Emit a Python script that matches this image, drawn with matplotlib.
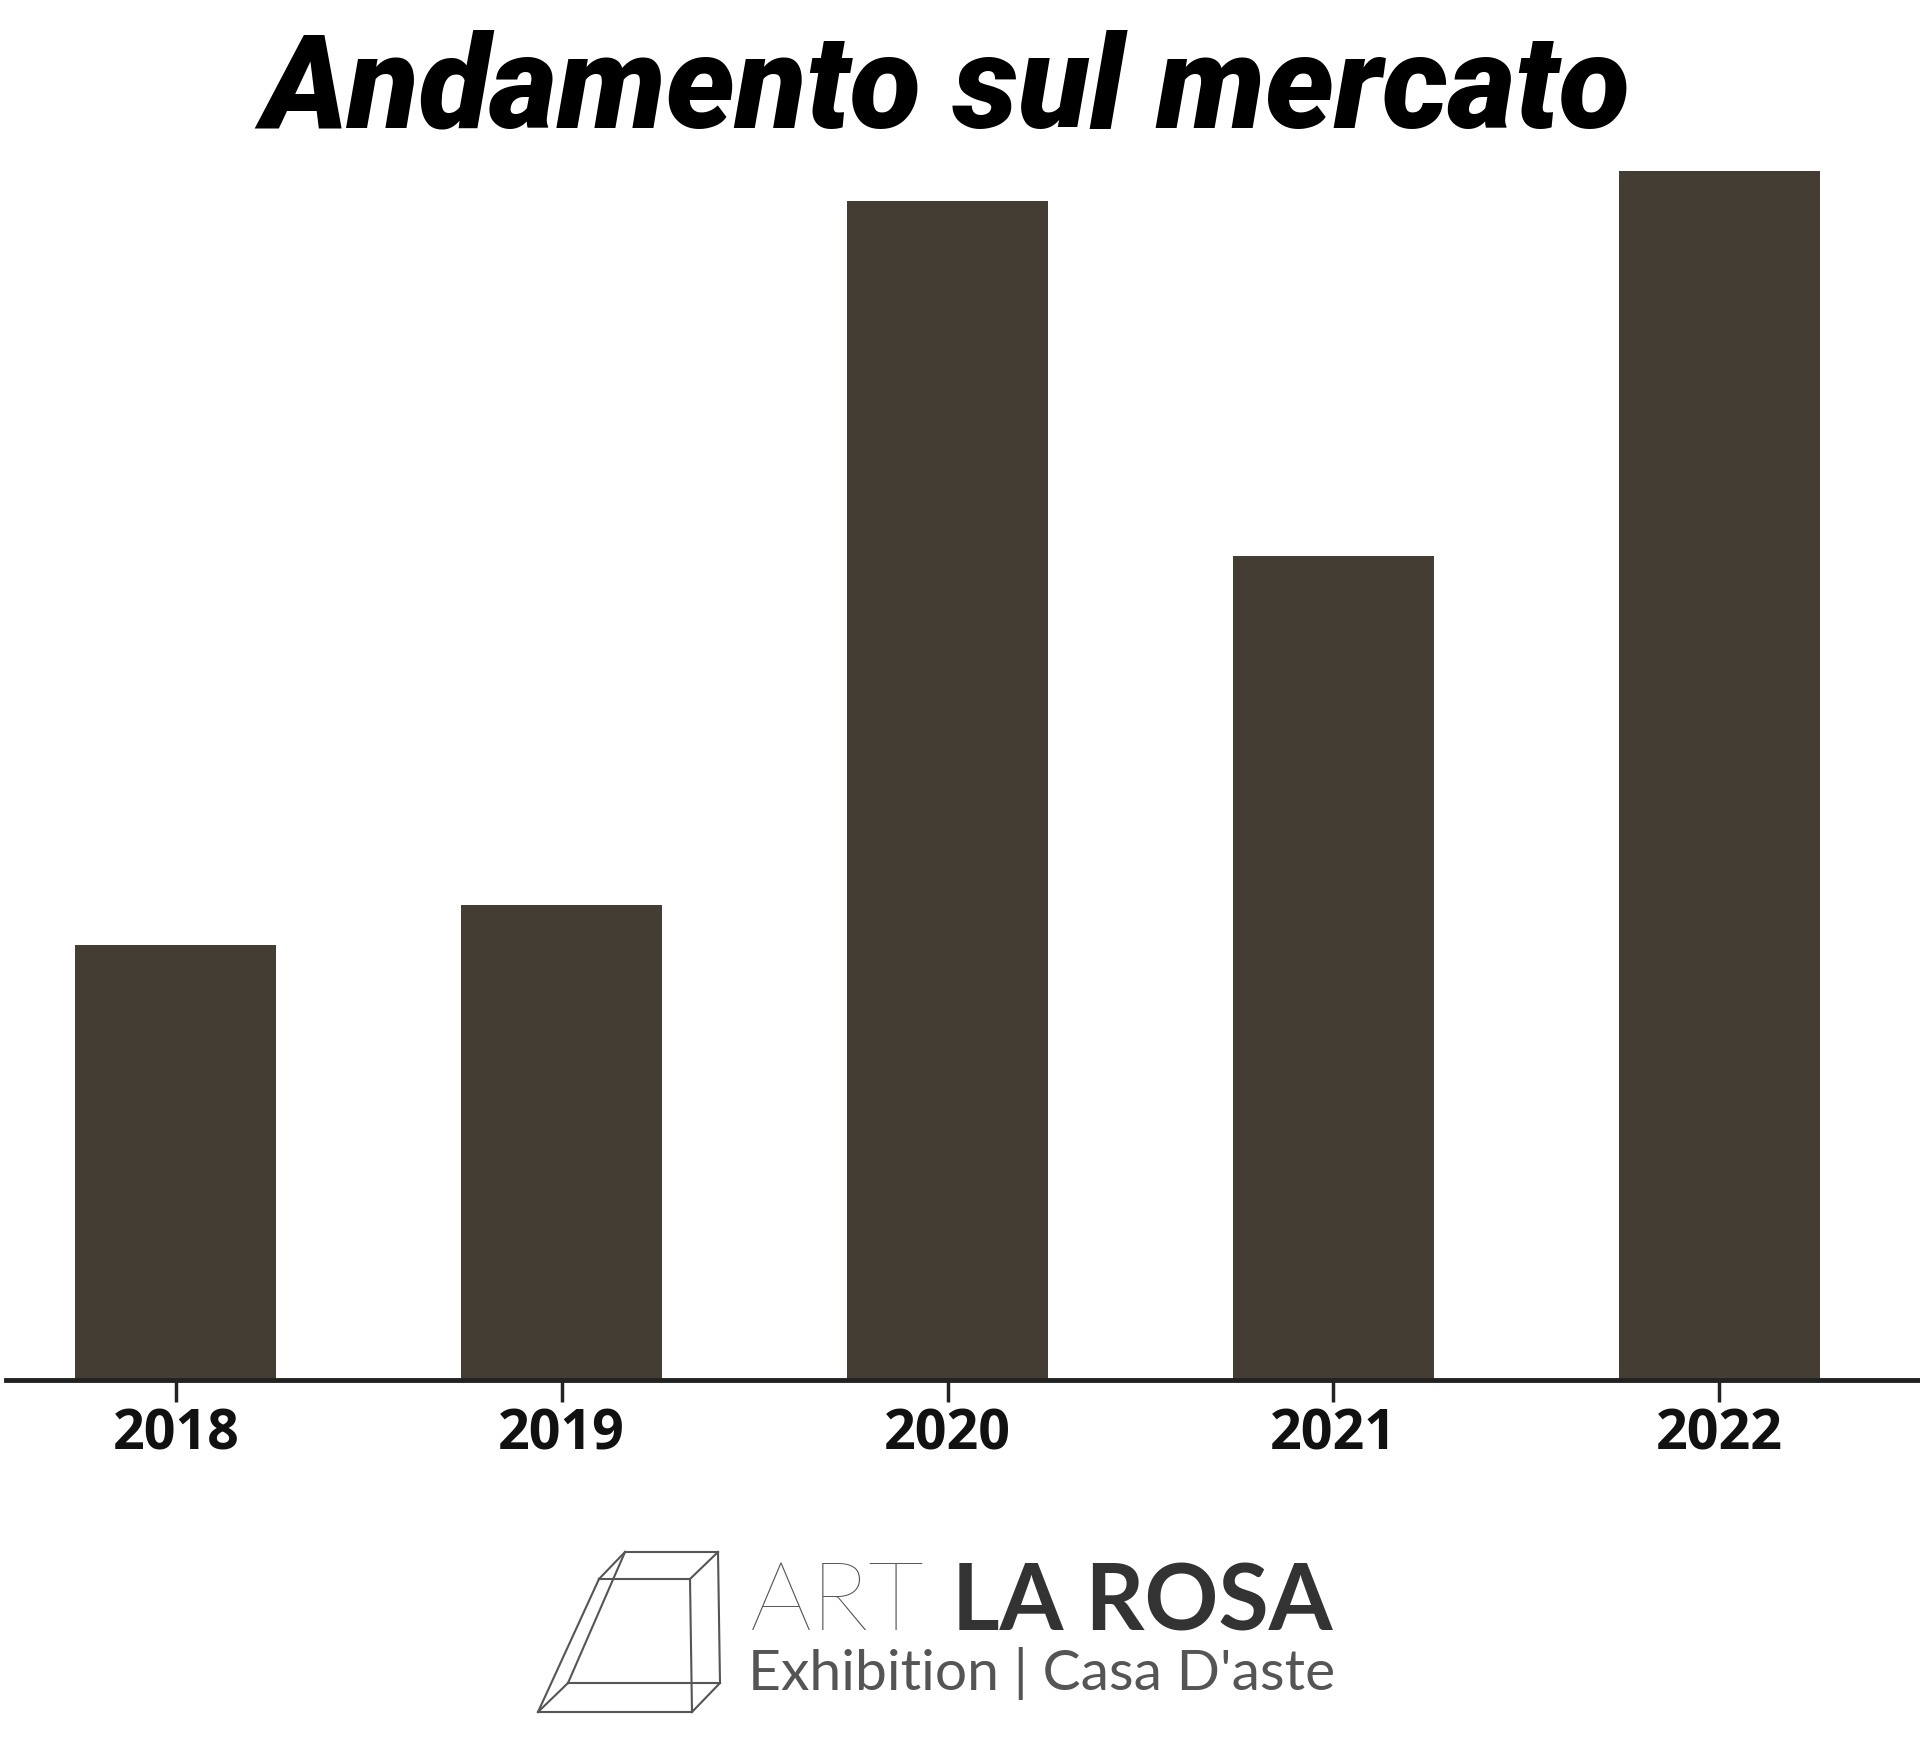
import matplotlib.pyplot as plt
from matplotlib.lines import Line2D

# data (relative heights, 2022 = 100)
years = ['2018', '2019', '2020', '2021', '2022']
values = [36.0, 39.3, 97.5, 68.1, 100.0]

W, H = 1920, 1744
fig = plt.figure(figsize=(W / 100, H / 100), dpi=100)

def fx(px):
    return px / W

def fy(py):
    return 1 - py / H

# axes placed in pixel terms of the original
ax = fig.add_axes([fx(6), fy(1380), fx(1920) - fx(6), fy(150) - fy(1380)])
xs = list(range(len(years)))
ax.bar(xs, values, width=0.52, color='#433d34')
ax.set_xlim(-0.44, 4.52)
ax.set_ylim(0, 101.7)
ax.set_xticks(xs)
ax.set_xticklabels(years, fontfamily='Open Sans', fontweight='bold', fontsize=40, color='#111111')
ax.tick_params(axis='x', length=16, width=2.5, color='#222222', pad=4)
ax.set_yticks([])
for s in ['left', 'top', 'right']:
    ax.spines[s].set_visible(False)
ax.spines['bottom'].set_linewidth(3.5)
ax.spines['bottom'].set_color('#222222')

fig.text(fx(946), fy(127), 'Andamento sul mercato', ha='center', va='baseline',
         fontsize=94, fontweight='heavy', style='italic', family='Roboto', color='black')

# logo: wireframe box
A, B = (625, 1552), (718, 1552)
C, D = (599, 1579), (690, 1579)
Hh, E = (568, 1683), (720, 1683)
G, F = (538, 1712), (692, 1712)
edges = [(A, B), (C, D), (Hh, E), (G, F),
         (A, C), (B, D), (E, F), (Hh, G),
         (B, E), (D, F), (A, Hh), (C, G)]
for (x0, y0), (x1, y1) in edges:
    fig.add_artist(Line2D([fx(x0), fx(x1)], [fy(y0), fy(y1)], transform=fig.transFigure,
                          color='#555555', linewidth=1.5))

fig.text(fx(750), fy(1630), 'ART', ha='left', va='baseline', fontsize=70,
         family='Lato', fontweight='light', color='#555555')
fig.text(fx(952), fy(1630), 'LA ROSA', ha='left', va='baseline', fontsize=66,
         family='Lato', fontweight='bold', color='#333333')
fig.text(fx(748), fy(1690), "Exhibition | Casa D'aste", ha='left', va='baseline', fontsize=41,
         family='Lato', color='#555555')

fig.savefig('out.png', dpi=100)
